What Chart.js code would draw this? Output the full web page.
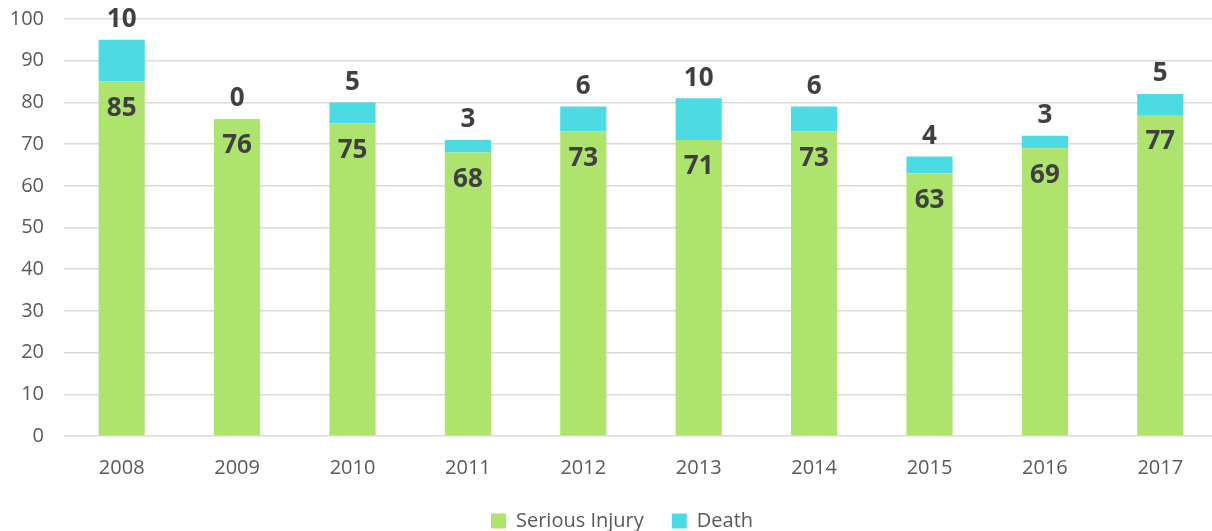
<!DOCTYPE html>
<html>
<head>
<meta charset="utf-8">
<script src="https://cdn.jsdelivr.net/npm/chart.js@4"></script>
<style>
  html, body { margin: 0; padding: 0; background: #fff; overflow: hidden; }
  #wrap { width: 1218px; height: 531px; }
</style>
</head>
<body>
<div id="wrap"><canvas id="BarChart" width="1218" height="531"></canvas></div>
<script>
// chart data
const years = ['2008', '2009', '2010', '2011', '2012', '2013', '2014', '2015', '2016', '2017'];
const seriousInjury = [85, 76, 75, 68, 73, 71, 73, 63, 69, 77];
const death = [10, 0, 5, 3, 6, 10, 6, 4, 3, 5];
const yTicks = [0, 10, 20, 30, 40, 50, 60, 70, 80, 90, 100];

// draw the value labels (no datalabels plugin available)
const valueLabels = {
    id: 'valueLabels',
    afterDatasetsDraw(chart) {
        const ctx = chart.ctx;
        ctx.save();
        ctx.font = 'bold 26px "Open Sans", sans-serif';
        ctx.fillStyle = '#404040';
        ctx.textAlign = 'center';
        ctx.textBaseline = 'middle';
        chart.data.datasets.forEach((ds, i) => {
            const meta = chart.getDatasetMeta(i);
            meta.data.forEach((bar, j) => {
                const top = Math.min(bar.y, bar.base);
                if (i === 0) {
                    ctx.fillText(ds.data[j], bar.x, top + 27);   // inside, near top
                } else {
                    ctx.fillText(ds.data[j], bar.x, top - 20);   // above the stack
                }
            });
        });
        ctx.restore();
    }
};

// legend is centred under the plot area, not the whole canvas
const shiftLegend = {
    id: 'shiftLegend',
    afterLayout(chart) {
        chart.legend.left += 26;
    }
};

const ctx = document.getElementById('BarChart').getContext('2d');
const BarChart = new Chart(ctx, {
    type: 'bar',
    data: {
        labels: years,
        datasets: [{
            label: 'Serious Injury',
            data: seriousInjury,
            backgroundColor: '#AEE46E',
            categoryPercentage: 1,
            barPercentage: 0.4,
        }, {
            label: 'Death',
            data: death,
            backgroundColor: '#4DDBE3',
            categoryPercentage: 1,
            barPercentage: 0.4,
        }],
    },
    options: {
        responsive: false,
        animation: false,
        layout: { padding: { top: 19, left: 0, right: 0, bottom: -10 } },
        scales: {
            x: {
                stacked: true,
                grid: { display: false, drawTicks: false },
                border: { display: false },
                afterFit: scale => { scale.height = 47; },
                ticks: { color: '#595959', font: { family: '"Open Sans", sans-serif', size: 20 }, padding: 20 },
            },
            y: {
                stacked: true,
                min: 0,
                max: 100,
                afterBuildTicks: axis => { axis.ticks = yTicks.map(v => ({ value: v })); },
                afterFit: scale => {
                    scale.width = 64;
                    scale.paddingTop = 0;
                    scale.paddingBottom = 0;
                },
                grid: { color: '#d9d9d9', lineWidth: 1.5, drawTicks: false },
                border: { display: false },
                ticks: { color: '#595959', font: { family: '"Open Sans", sans-serif', size: 20 }, padding: 20 },
            },
        },
        plugins: {
            legend: {
                position: 'bottom',
                labels: {
                    color: '#595959',
                    font: { family: '"Open Sans", sans-serif', size: 20 },
                    boxWidth: 15,
                    boxHeight: 15,
                    padding: 28,
                },
            },
            tooltip: { enabled: false },
        },
    },
    plugins: [valueLabels, shiftLegend],
});
</script>
</body>
</html>
